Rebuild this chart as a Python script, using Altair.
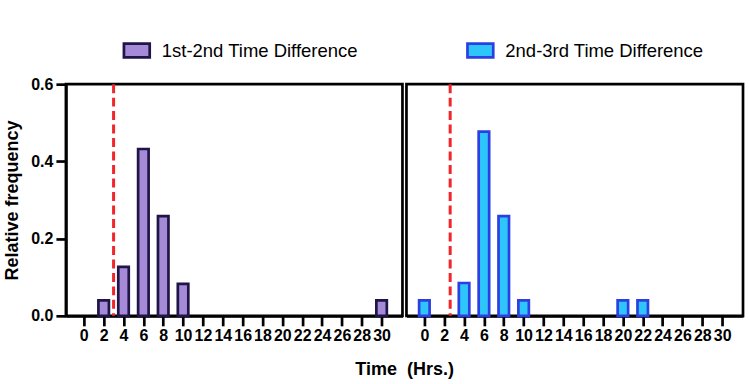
import altair as alt
import pandas as pd

# ---- data ----
hours = list(range(0, 31, 2))
first_diff = [0, 0.04, 0.127, 0.432, 0.258, 0.083, 0, 0, 0, 0, 0, 0, 0, 0, 0, 0.04]
second_diff = [0.04, 0, 0.085, 0.477, 0.258, 0.04, 0, 0, 0, 0, 0.04, 0.04, 0, 0, 0, 0]
series_names = ["1st-2nd Time Difference", "2nd-3rd Time Difference"]
fill_colors = ["#A58AD8", "#2EC6FA"]
stroke_colors = ["#1F1547", "#2B3FE3"]
cutoffs = [3.0, 2.6]
y_ticks = [0, 0.2, 0.4, 0.6]

X_DOMAIN = [-1.3, 31.6]
FONT = "Liberation Sans"

fill_scale = alt.Scale(domain=series_names, range=fill_colors)
stroke_scale = alt.Scale(domain=series_names, range=stroke_colors)
legend = alt.Legend(
    title=None,
    orient="none",
    legendX=60,
    legendY=-45,
    direction="horizontal",
    columnPadding=103,
    labelOffset=14,
    labelLimit=400,
    labelFont=FONT,
    labelFontSize=18.5,
    labelColor="black",
    symbolType="M-1.4,-0.75L1.4,-0.75L1.4,0.75L-1.4,0.75Z",
    symbolSize=340,
    symbolStrokeWidth=2.7,
)


def panel(i, values, x_axis, y_axis):
    df = pd.DataFrame({"hour": hours, "value": values, "series": series_names[i]})
    bars = (
        alt.Chart(df)
        .transform_filter("datum.value > 0")
        .mark_bar(size=10.5, strokeWidth=2.7)
        .encode(
            x=alt.X("hour:Q", scale=alt.Scale(domain=X_DOMAIN, nice=False, zero=False), axis=x_axis),
            y=alt.Y("value:Q", scale=alt.Scale(domain=[0, 0.6], nice=False), axis=y_axis),
            fill=alt.Fill("series:N", scale=fill_scale, legend=legend),
            stroke=alt.Stroke("series:N", scale=stroke_scale, legend=legend),
        )
    )
    rule = (
        alt.Chart(pd.DataFrame({"hour": [cutoffs[i]]}))
        .mark_rule(color="#F0262B", strokeWidth=3, strokeDash=[9, 4.5])
        .encode(x=alt.X("hour:Q"))
    )
    return alt.layer(bars, rule).properties(width=337, height=232)


x_common = dict(
    values=hours,
    tickCount=40,
    format="d",
    labelOverlap=False,
    labelFlush=False,
    tickSize=10,
    tickWidth=2.7,
    tickColor="black",
    domainWidth=2.7,
    domainColor="black",
    labelPadding=2,
    grid=False,
    titleBaseline="middle",
    titleY=54,
)

left_x = alt.Axis(title="Time", titleX=331, titleAlign="right", titleAnchor="start", **x_common)
right_x = alt.Axis(title="(Hrs.)", titleX=0, titleAlign="left", titleAnchor="start", **x_common)
left_y = alt.Axis(
    title="Relative frequency",
    values=y_ticks,
    tickCount=10,
    format=".1f",
    tickSize=10,
    tickWidth=2.7,
    tickColor="black",
    domainWidth=2.7,
    domainColor="black",
    labelPadding=3,
    titlePadding=9,
    grid=False,
)

left = panel(0, first_diff, left_x, left_y)
right = panel(1, second_diff, right_x, None)

chart = (
    alt.hconcat(left, right, spacing=0)
    .resolve_scale(fill="shared", stroke="shared")
    .properties(padding={"left": 2, "top": 39, "right": 5, "bottom": 5}, background="white")
    .configure_view(stroke="black", strokeWidth=2.7)
    .configure_axis(
        labelFont=FONT,
        labelFontSize=16,
        labelFontWeight="bold",
        labelColor="black",
        titleFont=FONT,
        titleFontSize=18,
        titleFontWeight="bold",
        titleColor="black",
    )
)

chart.save("out.html", embed_options={"renderer": "svg", "actions": False})
